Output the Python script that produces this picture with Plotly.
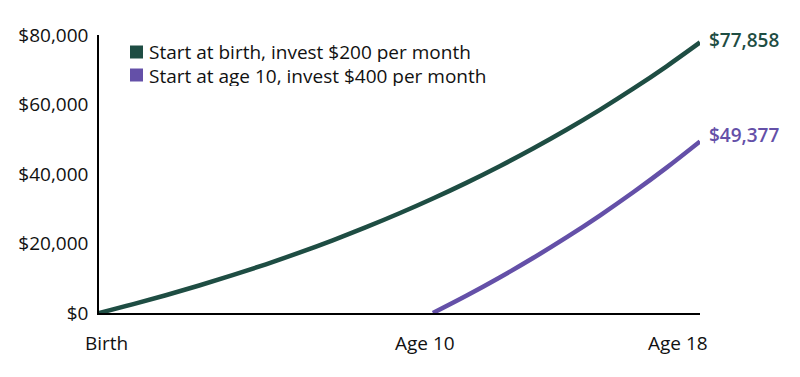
import plotly.graph_objects as go

years = list(range(0, 19))
birth_values = [0, 2479, 5112, 7907, 10874, 14024, 17368, 20919, 24688, 28691,
                32940, 37451, 42240, 47325, 52723, 58455, 64539, 70998, 77858]
age10_years = list(range(10, 19))
age10_values = [0, 4958, 10224, 15814, 21748, 28048, 34736, 41838, 49377]

tick_vals = [0, 10, 18]
tick_text = ["Birth", "Age 10", "Age 18"]
tick_shift = [7, -8, -22]
y_ticks = [0, 20000, 40000, 60000, 80000]
y_text = ["$0", "$20,000", "$40,000", "$60,000", "$80,000"]

series_names = ["Start at birth, invest $200 per month", "Start at age 10, invest $400 per month"]
GREEN = "#1e4d43"
PURPLE = "#6450a8"
FONT = "Open Sans"
FS = 19

fig = go.Figure()
fig.add_trace(go.Scatter(x=years, y=birth_values, mode="lines",
                         line=dict(color=GREEN, width=4.5, shape="spline", smoothing=1),
                         showlegend=False, cliponaxis=False))
fig.add_trace(go.Scatter(x=age10_years, y=age10_values, mode="lines",
                         line=dict(color=PURPLE, width=4.5, shape="spline", smoothing=1),
                         showlegend=False, cliponaxis=False))

fig.add_annotation(x=years[-1], y=birth_values[-1], text="$77,858", showarrow=False,
                   xanchor="left", yanchor="middle", xshift=7, yshift=2,
                   font=dict(family=FONT, size=FS, color=GREEN, weight=600))
fig.add_annotation(x=age10_years[-1], y=age10_values[-1], text="$49,377", showarrow=False,
                   xanchor="left", yanchor="middle", xshift=7, yshift=6,
                   font=dict(family=FONT, size=FS, color=PURPLE, weight=600))

# x tick labels as annotations (reference labels are offset from tick positions)
for v, t, s in zip(tick_vals, tick_text, tick_shift):
    fig.add_annotation(x=v, xref="x", y=0, yref="paper", text=t, showarrow=False,
                       xanchor="center", yanchor="middle", xshift=s, yshift=-30,
                       font=dict(family=FONT, size=FS, color="#111111"))

# manual legend (pixel positions relative to plot area: left=99, top=35, height=278, width=601)
pw, ph = 601.0, 278.0
for i, (name, col) in enumerate(zip(series_names, [GREEN, PURPLE])):
    cy = 52 + 23 * i
    yp = 1 - (cy - 35) / ph
    fig.add_shape(type="rect", xref="paper", yref="paper",
                  xsizemode="pixel", ysizemode="pixel",
                  xanchor=(136.5 - 99) / pw, yanchor=yp,
                  x0=-6.5, x1=6.5, y0=-6.5, y1=6.5,
                  fillcolor=col, line=dict(width=0))
    fig.add_annotation(xref="paper", yref="paper", x=(147 - 99) / pw, y=yp,
                       text=name, showarrow=False, xanchor="left", yanchor="middle",
                       height=21, valign="middle",
                       font=dict(family=FONT, size=FS, color="#111111"))

fig.update_layout(
    width=800, height=377,
    margin=dict(l=99, r=100, t=35, b=64),
    plot_bgcolor="white", paper_bgcolor="white",
    font=dict(family=FONT, size=FS, color="#111111"),
    showlegend=False,
    xaxis=dict(range=[0, 18], tickvals=tick_vals, showticklabels=False,
               showgrid=False, zeroline=False, showline=True, linecolor="black", linewidth=1.5,
               ticks=""),
    yaxis=dict(range=[0, 80000], tickvals=y_ticks, ticktext=y_text,
               showgrid=False, zeroline=False, showline=True, linecolor="black", linewidth=1.5,
               ticks="", ticklabelstandoff=5, tickfont=dict(size=FS)),
)

fig.write_html("out.html")
